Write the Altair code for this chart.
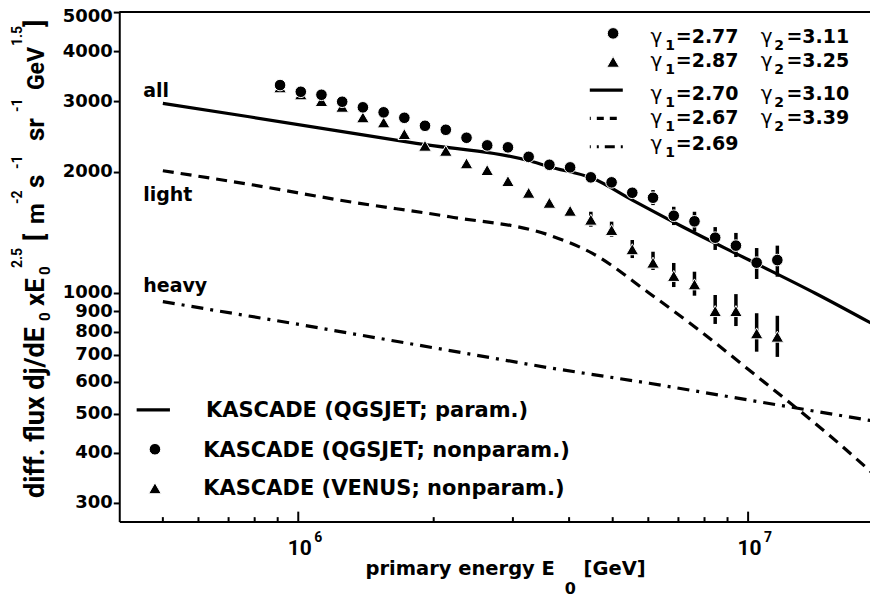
import altair as alt
import pandas as pd

# ---------------- data ----------------
energy = [9.11e5, 1.013e6, 1.126e6, 1.252e6, 1.392e6, 1.548e6, 1.721e6, 1.913e6,
          2.128e6, 2.366e6, 2.630e6, 2.925e6, 3.252e6, 3.616e6, 4.021e6, 4.471e6,
          4.972e6, 5.527e6, 6.146e6, 6.834e6, 7.599e6, 8.449e6, 9.395e6, 1.0447e7, 1.1614e7]

qgs_flux = [3290, 3166, 3112, 2990, 2896, 2814, 2727, 2605, 2546, 2432, 2328, 2302, 2180,
            2083, 2052, 1938, 1883, 1774, 1724, 1555, 1506, 1371, 1310, 1188, 1206]
qgs_low = [3290, 3166, 3112, 2990, 2896, 2814, 2727, 2605, 2546, 2432, 2328, 2302, 2180,
           2083, 2052, 1938, 1833, 1701, 1653, 1474, 1419, 1278, 1227, 1082, 1096]
qgs_high = [3290, 3166, 3112, 2990, 2896, 2814, 2727, 2605, 2546, 2432, 2328, 2302, 2180,
            2083, 2052, 1938, 1930, 1822, 1802, 1637, 1591, 1457, 1409, 1292, 1310]

venus_flux = [3247, 3119, 3002, 2905, 2734, 2656, 2484, 2323, 2257, 2100, 2021, 1897, 1774,
              1675, 1600, 1520, 1433, 1283, 1188, 1101, 1049, 900, 900, 792, 777]
venus_low = [3247, 3119, 3002, 2905, 2734, 2656, 2484, 2323, 2257, 2100, 2021, 1897, 1774,
             1675, 1600, 1460, 1379, 1220, 1139, 1033, 983, 836, 826, 713, 692]
venus_high = [3247, 3119, 3002, 2905, 2734, 2656, 2484, 2323, 2257, 2100, 2021, 1897, 1774,
              1675, 1600, 1591, 1503, 1353, 1265, 1186, 1128, 987, 992, 889, 876]

all_energy = [5.0e5, 7.78e5, 1.83e6, 3.32e6, 3.61e6, 4.51e6, 5.53e6, 7.15e6, 1.005e7, 1.41e7, 1.94e7]
all_flux = [2963, 2743, 2355, 2119, 2060, 1927, 1701, 1460, 1206, 997, 823]

light_energy = [5.0e5, 7.78e5, 1.30e6, 2.17e6, 3.61e6, 4.51e6, 6.03e6, 7.78e6, 1.005e7, 1.62e7, 1.94e7]
light_flux = [2013, 1862, 1685, 1546, 1392, 1253, 997, 807, 642, 414, 346]

heavy_energy = [5.0e5, 9.71e5, 3.61e6, 6.03e6, 1.94e7]
heavy_flux = [950, 839, 650, 595, 477]

y_ticks = [300, 400, 500, 600, 700, 800, 900, 1000, 2000, 3000, 4000, 5000]
x_major = [1e6, 1e7]
x_minor = [5e5, 6e5, 7e5, 8e5, 9e5, 2e6, 3e6, 4e6, 5e6, 6e6, 7e6, 8e6, 9e6]
x_exponents = ["6", "7"]

legend_labels = ["KASCADE (QGSJET; param.)", "KASCADE (QGSJET; nonparam.)",
                 "KASCADE (VENUS; nonparam.)"]
gamma1 = ["2.77", "2.87", "2.70", "2.67", "2.69"]
gamma2 = ["3.11", "3.25", "3.10", "3.39", ""]

# ---------------- layout ----------------
PX0, PY0 = 119.3, 12.0          # page position of plot origin
W, H = 751.0, 509.7
PX_PER_DEC_X, PX_PER_DEC_Y = 450.0, 401.6
xdom = [4e5, 4e5 * 10 ** (W / PX_PER_DEC_X)]
ydom = [5000 / 10 ** (H / PX_PER_DEC_Y), 5000]

xs = alt.Scale(type="log", domain=xdom, nice=False)
ys = alt.Scale(type="log", domain=ydom, nice=False)

one = pd.DataFrame({"d": [0]})
DJ = "DejaVu Sans"
HV = "Roboto"

x_axis = alt.Axis(labels=False, ticks=False, title=None, domainColor="black",
                  domainWidth=2, grid=False)
y_axis = alt.Axis(values=y_ticks, format="d", title=None, labelFont=DJ,
                  labelFontWeight="bold", labelFontSize=18, labelColor="black",
                  tickSize=6, tickWidth=2, tickColor="black", domainWidth=2,
                  domainColor="black", labelPadding=1, labelOverlap=False, grid=False,
                  labelOffset={"condition": {"test": "datum.value >= 4999", "value": 4},
                               "value": 0})


def rx(px):
    return px - PX0


def ry(py):
    return py - PY0


def txt(s, px, py, size, font=DJ, weight="bold", angle=0):
    return alt.Chart(one).mark_text(
        text=s, font=font, fontWeight=weight, fontSize=size, align="left",
        baseline="alphabetic", angle=angle, color="black"
    ).encode(x=alt.value(rx(px)), y=alt.value(ry(py)))


def X(field="E"):
    return alt.X(f"{field}:Q", scale=xs, axis=x_axis)


def Y(field="F"):
    return alt.Y(f"{field}:Q", scale=ys, axis=y_axis)


df_all = pd.DataFrame({"E": all_energy, "F": all_flux})
df_light = pd.DataFrame({"E": light_energy, "F": light_flux})
df_heavy = pd.DataFrame({"E": heavy_energy, "F": heavy_flux})
df_q = pd.DataFrame({"E": energy, "F": qgs_flux, "lo": qgs_low, "hi": qgs_high})
df_v = pd.DataFrame({"E": energy, "F": venus_flux, "lo": venus_low, "hi": venus_high})

layers = []

# model lines
layers.append(alt.Chart(df_all).mark_line(color="black", strokeWidth=3.2, clip=True,
                                          interpolate="monotone")
              .encode(x=X(), y=Y()))
layers.append(alt.Chart(df_light).mark_line(color="black", strokeWidth=3.2, clip=True,
                                            interpolate="monotone", strokeDash=[11, 7])
              .encode(x=X(), y=Y()))
layers.append(alt.Chart(df_heavy).mark_line(color="black", strokeWidth=3.2, clip=True,
                                            strokeDash=[12, 7, 3, 7])
              .encode(x=X(), y=Y()))

# error bars
for d in (df_v, df_q):
    layers.append(alt.Chart(d).mark_rule(color="black", strokeWidth=3.5)
                  .encode(x=X(), y=Y("lo"), y2="hi:Q"))

# markers
layers.append(alt.Chart(df_v).mark_point(shape="triangle-up", filled=True, fill="black",
                                         stroke="white", strokeWidth=1, size=160, opacity=1)
              .encode(x=X(), y=Y()))
layers.append(alt.Chart(df_q).mark_point(shape="circle", filled=True, fill="black",
                                         stroke="white", strokeWidth=1, size=135, opacity=1)
              .encode(x=X(), y=Y()))

# inward x ticks
layers.append(alt.Chart(pd.DataFrame({"E": x_minor})).mark_rule(color="black", strokeWidth=2)
              .encode(x=X(), y=alt.value(H), y2=alt.value(H - 4.5)))
layers.append(alt.Chart(pd.DataFrame({"E": x_major})).mark_rule(color="black", strokeWidth=2)
              .encode(x=X(), y=alt.value(H), y2=alt.value(H - 10)))

# top frame line
layers.append(alt.Chart(one).mark_rule(color="black", strokeWidth=2)
              .encode(x=alt.value(0), x2=alt.value(W), y=alt.value(0)))

# x tick labels 10^n
df_xl = pd.DataFrame({"E": x_major, "base": ["10", "10"], "exp": x_exponents})
layers.append(alt.Chart(df_xl).mark_text(font=HV, fontWeight="bold", fontSize=21,
                                         align="center", baseline="alphabetic", dx=1.5,
                                         color="black")
              .encode(x=X(), y=alt.value(ry(555)), text="base:N"))
layers.append(alt.Chart(df_xl).mark_text(font=HV, fontWeight="bold", fontSize=14,
                                         align="left", baseline="alphabetic", dx=16,
                                         color="black")
              .encode(x=X(), y=alt.value(ry(542.5)), text="exp:N"))

# x axis title
layers.append(txt("primary energy E", 365.6, 575, 19.5))
layers.append(txt("0", 565, 594, 16))
layers.append(txt("[GeV]", 583.8, 575, 19.5))

# y axis title (rotated, pieces with sub/superscripts)
ang = 270
ytitle = [
    ("diff. flux dj/dE", 44, 498, 27),
    ("0", 50, 321, 15),
    ("xE", 44, 306, 26),
    ("0", 50, 275, 15),
    ("2.5", 22, 268, 14),
    ("[", 44, 241, 26),
    ("m", 44, 224, 24),
    ("-2", 22, 204, 14),
    ("s", 44, 188, 26),
    ("-1", 22, 169, 14),
    ("sr", 44, 141, 26),
    ("-1", 22, 112, 14),
    ("GeV", 44, 90, 23),
    ("1.5", 22, 46, 14),
    ("]", 44, 27, 26),
]
for s, bx, sy, fs in ytitle:
    layers.append(txt(s, bx, sy, fs, font=HV, angle=ang))

# curve labels
layers.append(txt("all", 143.3, 96.7, 19))
layers.append(txt("light", 143.3, 201, 19))
layers.append(txt("heavy", 143.3, 292, 19))

# bottom-left legend
layers.append(alt.Chart(one).mark_rule(color="black", strokeWidth=3.2)
              .encode(x=alt.value(rx(136.7)), x2=alt.value(rx(170)), y=alt.value(ry(410))))
layers.append(alt.Chart(one).mark_point(shape="circle", filled=True, fill="black",
                                        stroke="white", strokeWidth=1, size=135, opacity=1)
              .encode(x=alt.value(rx(155)), y=alt.value(ry(449.3))))
layers.append(alt.Chart(one).mark_point(shape="triangle-up", filled=True, fill="black",
                                        stroke="white", strokeWidth=1, size=160, opacity=1)
              .encode(x=alt.value(rx(155)), y=alt.value(ry(488.3))))
layers.append(txt(legend_labels[0], 206, 417.3, 21))
layers.append(txt(legend_labels[1], 203.3, 456.7, 21))
layers.append(txt(legend_labels[2], 203.3, 495.5, 21))

# top-right legend symbols
layers.append(alt.Chart(one).mark_point(shape="circle", filled=True, fill="black",
                                        stroke="white", strokeWidth=1, size=135, opacity=1)
              .encode(x=alt.value(rx(613.3)), y=alt.value(ry(33.3))))
layers.append(alt.Chart(one).mark_point(shape="triangle-up", filled=True, fill="black",
                                        stroke="white", strokeWidth=1, size=160, opacity=1)
              .encode(x=alt.value(rx(613.3)), y=alt.value(ry(61.7))))
layers.append(alt.Chart(one).mark_rule(color="black", strokeWidth=3.2)
              .encode(x=alt.value(rx(590)), x2=alt.value(rx(623)), y=alt.value(ry(90))))
layers.append(alt.Chart(one).mark_rule(color="black", strokeWidth=3.2, strokeDash=[7, 6],
                                       strokeDashOffset=6)
              .encode(x=alt.value(rx(590)), x2=alt.value(rx(623)), y=alt.value(ry(118.3))))
layers.append(alt.Chart(one).mark_rule(color="black", strokeWidth=3.2,
                                       strokeDash=[10, 6, 2, 6], strokeDashOffset=9)
              .encode(x=alt.value(rx(590)), x2=alt.value(rx(623)), y=alt.value(ry(146.7))))

# top-right gamma texts
row_base = [42.7, 66.7, 100, 124, 150]
for i, b in enumerate(row_base):
    layers.append(txt("\u03b3", 650.7, b, 20, weight="normal"))
    layers.append(txt("1", 665.5, b + 7, 14))
    layers.append(txt("=" + gamma1[i], 676, b, 19))
    if gamma2[i]:
        layers.append(txt("\u03b3", 761, b, 20, weight="normal"))
        layers.append(txt("2", 774.5, b + 7, 14))
        layers.append(txt("=" + gamma2[i], 786.7, b, 19))

chart = alt.layer(*layers).properties(
    width=W, height=H,
    autosize=alt.AutoSizeParams(type="none"),
    padding={"left": PX0 - 8, "top": PY0 - 8, "right": 0, "bottom": 591 - (PY0 - 8) - H},
    background="white",
).configure_view(stroke=None)

chart.save("out.html", embed_options={"renderer": "svg", "actions": False})
